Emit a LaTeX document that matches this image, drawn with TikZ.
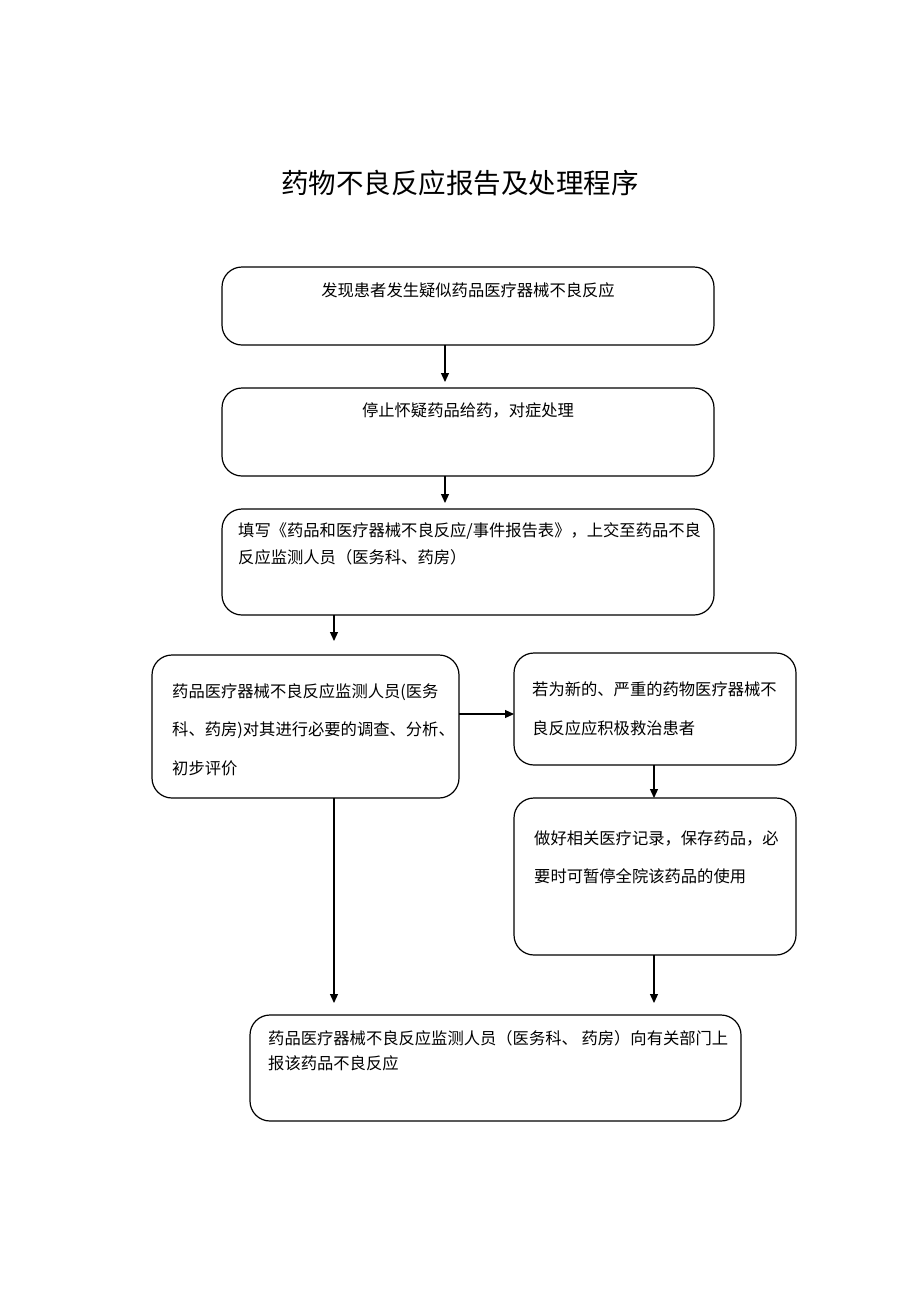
\documentclass[tikz,border=0pt]{standalone}
\usepackage{fontspec}
\setmainfont{Noto Sans CJK SC}
\usetikzlibrary{arrows.meta}
\begin{document}
\begin{tikzpicture}[x=1pt,y=-1pt,
  box/.style={draw, line width=1.2pt, rounded corners=20pt, anchor=north west, inner sep=0pt, outer sep=0pt},
  txt/.style={anchor=west, inner sep=0pt, font=\fontsize{16.3}{18}\selectfont},
  ctxt/.style={anchor=center, inner sep=0pt, font=\fontsize{16.3}{18}\selectfont},
  arr/.style={line width=1.2pt, -{Triangle[length=9pt,width=8pt]}}]
\useasboundingbox (0,0) rectangle (920,1302);
\node[inner sep=0pt, font=\fontsize{27.5}{30}\selectfont] (title) at (460,183) {药物不良反应报告及处理程序};
% boxes
\node[box, minimum width=492pt, minimum height=78pt] (b1) at (222,267) {};
\node[box, minimum width=492pt, minimum height=88pt] (b2) at (222,388) {};
\node[box, minimum width=492pt, minimum height=106pt] (b3) at (222,509) {};
\node[box, minimum width=307pt, minimum height=143pt] (b4) at (152,655) {};
\node[box, minimum width=282pt, minimum height=112pt] (b5) at (514,653) {};
\node[box, minimum width=282pt, minimum height=157pt] (b6) at (514,798) {};
\node[box, minimum width=491pt, minimum height=106pt] (b7) at (250,1015) {};
% texts
\node[ctxt] (t1) at (468,290) {发现患者发生疑似药品医疗器械不良反应};
\node[ctxt] (t2) at (468,410) {停止怀疑药品给药，对症处理};
\node[txt] (t3a) at (238,531) {填写《药品和医疗器械不良反应/事件报告表》，上交至药品不良};
\node[txt] (t3b) at (238,557) {反应监测人员（医务科、药房）};
\node[txt] (t4a) at (172,692) {药品医疗器械不良反应监测人员(医务};
\node[txt] (t4b) at (172,730) {科、药房)对其进行必要的调查、分析、};
\node[txt] (t4c) at (172,768) {初步评价};
\node[txt] (t5a) at (532,689) {若为新的、严重的药物医疗器械不};
\node[txt] (t5b) at (532,728) {良反应应积极救治患者};
\node[txt] (t6a) at (534,838) {做好相关医疗记录，保存药品，必};
\node[txt] (t6b) at (534,876) {要时可暂停全院该药品的使用};
\node[txt] (t7a) at (268,1038) {药品医疗器械不良反应监测人员（医务科、 药房）向有关部门上};
\node[txt] (t7b) at (268,1063) {报该药品不良反应};
% connectors
\coordinate (e34) at (334,641);
\coordinate (e47) at (334,1003);
\coordinate (e67) at (654,1003);
\draw[arr, shorten >=6pt] (b1.south -| 445,0) -- (b2.north -| 445,0);
\draw[arr, shorten >=6pt] (b2.south -| 445,0) -- (b3.north -| 445,0);
\draw[arr] (b3.south -| e34) -- (e34);
\draw[arr] (b4.east |- 0,714) -- (b5.west |- 0,714);
\draw[arr] (b5.south -| 654,0) -- (b6.north -| 654,0);
\draw[arr] (b6.south -| e67) -- (e67);
\draw[arr] (b4.south -| e47) -- (e47);
\end{tikzpicture}
\end{document}
